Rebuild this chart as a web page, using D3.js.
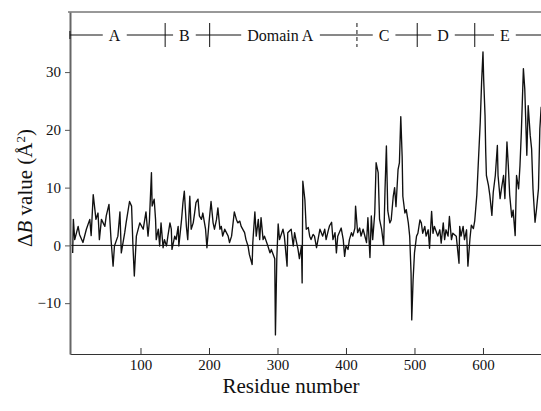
<!DOCTYPE html>
<html>
<head>
<meta charset="utf-8">
<script src="https://cdn.jsdelivr.net/npm/d3@7"></script>
<style>
  body { margin: 0; background: #fff; }
  svg text { font-family: "Liberation Serif", "Times New Roman", serif; fill: #111; }
</style>
</head>
<body>
<div class="canvas"></div>
<script>
// residue numbers and delta B values
const residues = [
  1, 2, 4, 9, 11, 16, 21, 26, 28, 31, 35, 38, 40, 43, 48, 50, 54, 57, 60, 62,
  67, 70, 72, 77, 79, 84, 87, 89, 91, 94, 99, 104, 108, 111, 113, 116, 117, 120, 122, 123,
  126, 128, 130, 133, 135, 138, 140, 143, 145, 146, 150, 152, 155, 156, 160, 162, 164, 167, 169, 172,
  174, 177, 179, 181, 184, 186, 189, 191, 195, 197, 200, 203, 206, 208, 211, 213, 216, 218, 220, 223,
  228, 230, 233, 237, 240, 242, 245, 247, 252, 254, 257, 259, 263, 264, 267, 269, 272, 274, 276, 279,
  281, 286, 289, 291, 296, 297, 299, 301, 303, 308, 310, 314, 315, 320, 323, 325, 327, 330, 332, 335,
  336, 337, 340, 342, 345, 347, 349, 352, 354, 357, 362, 366, 369, 371, 374, 376, 379, 381, 384, 386,
  388, 393, 396, 398, 400, 403, 405, 408, 410, 413, 414, 417, 420, 422, 425, 430, 432, 435, 437, 439,
  442, 444, 447, 449, 452, 455, 457, 459, 461, 464, 466, 469, 471, 473, 476, 478, 480, 482, 483, 486,
  488, 491, 493, 495, 496, 498, 500, 503, 505, 508, 510, 512, 515, 517, 520, 522, 525, 527, 529, 534,
  537, 539, 542, 544, 546, 549, 551, 554, 556, 561, 565, 566, 568, 571, 573, 576, 578, 581, 583, 586,
  588, 591, 593, 596, 598, 600, 601, 603, 604, 605, 608, 610, 613, 615, 618, 621, 622, 625, 627, 630,
  632, 635, 637, 639, 642, 644, 647, 649, 652, 654, 656, 659, 661, 664, 666, 669, 671, 673, 676, 678,
  681, 683, 685
];
const deltaB = [
  -1.3, 4.5, 1.0, 3.3, 1.9, 0.5, 2.8, 4.5, 1.7, 8.8, 4.5, 5.6, 1.0, 4.5, 3.3, 5.1, 7.1, 1.0, -3.6, -0.1,
  1.6, 5.8, -1.3, 2.2, 3.9, 7.6, 6.8, -0.1, -5.3, 1.6, 3.9, 2.8, 5.8, 1.6, 4.2, 12.6, 6.8, 8.0, 4.5, 1.0,
  2.8, -0.1, 3.9, -0.4, 1.0, -0.1, 1.6, 3.9, 2.8, -0.7, 1.6, 1.0, 3.3, -0.1, 4.5, 7.4, 9.4, 3.3, 1.0, 8.5,
  2.8, 3.9, 5.6, 7.4, 8.0, 5.1, 4.5, 5.6, 2.8, -0.4, 3.9, 7.6, 3.9, 2.8, 4.5, 6.5, 2.8, 3.3, 1.6, 2.8,
  1.6, 0.5, 1.6, 5.8, 4.5, 3.9, 4.2, 3.3, 2.2, 1.0, -0.1, -1.6, -3.3, 0.5, 5.8, 1.6, 4.5, 1.0, 4.8, 1.0,
  1.6, -0.1, -1.3, -0.7, -2.3, -15.5, -2.3, 3.7, 1.0, 2.8, 1.6, -3.6, 2.2, 2.8, -0.1, 2.2, 1.0, -0.7, -2.3, -0.1,
  -6.5, 11.1, 7.9, 2.8, 3.1, 1.6, 1.0, 1.9, 1.6, -0.4, 2.8, 1.6, 2.8, 1.0, 2.5, 3.4, 4.0, 1.0, 2.2, -1.3,
  1.6, 3.0, 1.0, -1.9, -0.1, -0.7, 1.0, 2.2, 1.6, 3.0, 6.8, 2.2, 3.0, 1.6, 2.8, 0.5, 4.8, -2.1, 5.1, 1.0,
  5.6, 14.3, 12.6, 4.5, 2.8, 0.0, 9.7, 17.2, 6.0, 3.9, 4.4, 8.5, 10.0, 6.7, 13.1, 14.3, 22.3, 15.4, 8.5, 5.6,
  6.2, 3.9, 1.6, -4.8, -12.9, -5.9, -1.3, 1.6, 2.1, 4.4, 3.9, 2.1, 3.3, 1.6, 2.7, -0.5, 5.9, 2.1, 3.3, 1.6,
  2.7, 0.4, 3.9, 1.0, 2.7, 1.6, 5.0, 1.0, 2.1, 1.6, -3.1, 3.3, 1.6, 3.3, 1.0, 2.7, -3.6, 1.2, 3.5, 2.9,
  4.3, 8.7, 13.8, 21.3, 28.3, 33.5, 28.8, 22.5, 16.2, 12.1, 10.4, 8.7, 5.2, 9.2, 12.1, 17.3, 12.1, 8.1, 9.8, 12.1,
  8.1, 17.9, 13.8, 8.7, 4.9, 6.1, 1.7, 12.1, 9.8, 13.8, 19.6, 30.6, 27.1, 15.6, 24.2, 19.0, 16.7, 9.8, 4.0, 6.1,
  9.8, 20.2, 24.0
];

// tick values
const xTicks = [100, 200, 300, 400, 500, 600];
const yTicks = [-10, 0, 10, 20, 30];

// domain bar along the top
const domainNames = ["A", "B", "Domain A", "C", "D", "E"];
const domainBreaks = [-3, 136, 201, 416, 504, 588];

// margins and dimensions
const w = 541;
const h = 411;
const margin = { top: 12, right: 0, bottom: 57, left: 70 };
const graphWidth = w - margin.left - margin.right;
const graphHeight = h - margin.top - margin.bottom;

const svg = d3.select(".canvas").append("svg").attr("width", w).attr("height", h);

const graph = svg.append("g").attr("transform", `translate(${margin.left}, ${margin.top})`);

const x = d3.scaleLinear().domain([-2.9, 684.7]).range([0, graphWidth]);
const y = d3.scaleLinear().domain([-18.8, 40.4]).range([graphHeight, 0]);

// top frame line
graph.append("line")
  .attr("x1", -2).attr("x2", graphWidth)
  .attr("y1", 0).attr("y2", 0)
  .attr("stroke", "#333").attr("stroke-width", 1);

// zero line
graph.append("line")
  .attr("x1", 0).attr("x2", graphWidth)
  .attr("y1", y(0)).attr("y2", y(0))
  .attr("stroke", "#111").attr("stroke-width", 1);

// trace
const line = d3.line().x((d) => x(d[0])).y((d) => y(d[1]));
graph.append("path")
  .datum(residues.map((r, i) => [r, deltaB[i]]))
  .attr("d", line)
  .attr("fill", "none")
  .attr("stroke", "#111")
  .attr("stroke-width", 1.35)
  .attr("stroke-linejoin", "round");

// axes
const xAxis = d3.axisBottom(x).tickValues(xTicks).tickSizeInner(-6).tickSizeOuter(0).tickPadding(5);
const yAxis = d3.axisLeft(y).tickValues(yTicks).tickSizeInner(5).tickSizeOuter(0).tickPadding(4);

const gx = graph.append("g").attr("transform", `translate(0, ${graphHeight})`).call(xAxis);
const gy = graph.append("g").call(yAxis);

gx.selectAll("text").style("font-size", "15px").attr("font-family", null);
gy.selectAll("text").style("font-size", "15px").attr("font-family", null);
gx.select(".domain").attr("stroke", "#333");
gy.select(".domain").attr("stroke", "#666").attr("stroke-width", 2);
gx.selectAll(".tick line").attr("stroke", "#333");
gy.selectAll(".tick line").attr("stroke", "#555");

// domain bar
const barY = 23;
const legend = graph.append("g");
legend.append("line")
  .attr("x1", x(domainBreaks[0])).attr("x2", graphWidth)
  .attr("y1", barY).attr("y2", barY)
  .attr("stroke", "#111").attr("stroke-width", 1);

legend.selectAll(".sep")
  .data(domainBreaks)
  .enter()
  .append("line")
  .attr("class", "sep")
  .attr("x1", (d) => x(d)).attr("x2", (d) => x(d))
  .attr("y1", (d, i) => (i === 0 ? barY - 4 : barY - 12))
  .attr("y2", (d, i) => (i === 0 ? barY + 4 : barY + 12))
  .attr("stroke", "#111")
  .attr("stroke-dasharray", (d, i) => (i === 3 ? "4,3" : null));

const labels = legend.selectAll(".lab")
  .data(domainNames)
  .enter()
  .append("g")
  .attr("class", "lab")
  .attr("transform", (d, i) => {
    const a = x(domainBreaks[i]);
    const b = i + 1 < domainBreaks.length ? x(domainBreaks[i + 1]) : graphWidth;
    return `translate(${(a + b) / 2 - 3}, ${barY})`;
  });

labels.append("text")
  .attr("text-anchor", "middle")
  .attr("dy", "0.35em")
  .style("font-size", "16px")
  .text((d) => d);

labels.each(function () {
  const g = d3.select(this);
  const bb = g.select("text").node().getBBox();
  g.insert("rect", "text")
    .attr("x", bb.x - 6).attr("y", -6)
    .attr("width", bb.width + 12).attr("height", 12)
    .attr("fill", "#fff");
});

// axis titles
svg.append("text")
  .attr("x", 291)
  .attr("y", 393)
  .attr("text-anchor", "middle")
  .style("font-size", "21px")
  .text("Residue number");

const yl = svg.append("text")
  .attr("transform", "translate(32, 188) rotate(-90)")
  .attr("text-anchor", "middle")
  .style("font-size", "21px");
yl.append("tspan").text("Δ");
yl.append("tspan").style("font-style", "italic").text("B");
yl.append("tspan").text(" value (Å");
yl.append("tspan").attr("baseline-shift", "super").style("font-size", "13px").text("2");
yl.append("tspan").text(")");
</script>
</body>
</html>
